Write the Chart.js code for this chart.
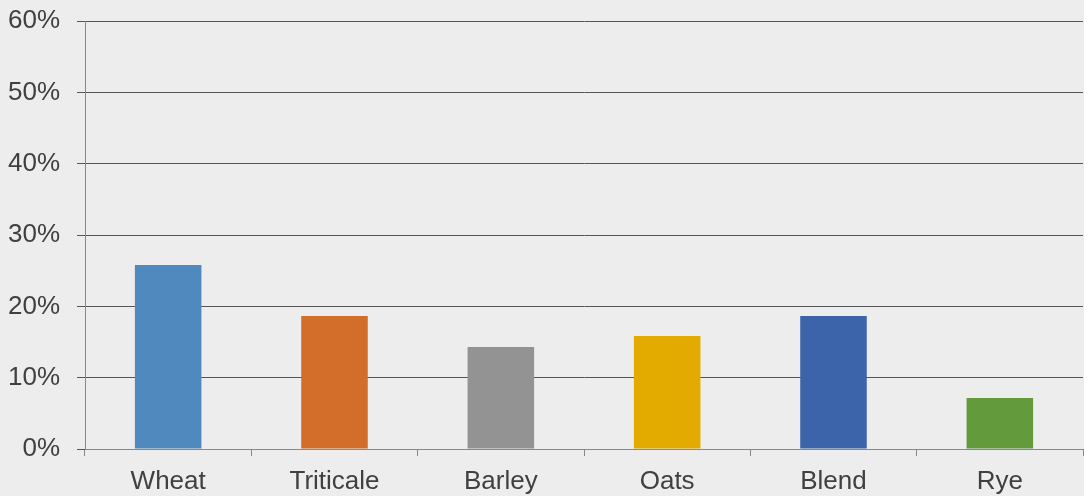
<!DOCTYPE html>
<html>
<head>
<meta charset="utf-8">
<script src="https://cdn.jsdelivr.net/npm/chart.js@4"></script>
<style>
  html, body { margin: 0; padding: 0; background: #ededed; }
  #wrap { width: 1084px; height: 496px; }
</style>
</head>
<body>
<div id="wrap"><canvas id="grainChart"></canvas></div>
<script>
const grains = ['Wheat', 'Triticale', 'Barley', 'Oats', 'Blend', 'Rye'];
const shares = [25.8, 18.65, 14.3, 15.85, 18.65, 7.15];
const barColors = ['#4f89bd', '#d36e2a', '#939393', '#e3ab00', '#3c64ab', '#629a3c'];
const yTicks = [0, 10, 20, 30, 40, 50, 60];

const textColor = '#404040';
const labelFont = { family: 'Liberation Sans', size: 26 };

const ctx = document.getElementById('grainChart').getContext('2d');
new Chart(ctx, {
  type: 'bar',
  data: {
    labels: grains,
    datasets: [{
      data: shares,
      backgroundColor: barColors,
      barPercentage: 0.4,
      categoryPercentage: 1
    }]
  },
  options: {
    responsive: true,
    maintainAspectRatio: false,
    animation: false,
    layout: { padding: { top: 21, right: 1, left: 0, bottom: 0 } },
    plugins: { legend: { display: false }, tooltip: { enabled: false } },
    scales: {
      x: {
        offset: true,
        grid: { display: true, drawOnChartArea: false, offset: true, tickLength: 7, color: '#888888' },
        border: { color: '#888888', width: 1 },
        ticks: { color: textColor, font: labelFont, padding: 10 },
        afterFit: scale => {
          scale.height = 47;
          scale.paddingLeft = 0;
          scale.paddingRight = 0;
        }
      },
      y: {
        min: 0,
        max: 60,
        afterBuildTicks: scale => { scale.ticks = yTicks.map(v => ({ value: v })); },
        grid: { color: '#555555', tickLength: 8, lineWidth: 1 },
        border: { color: '#888888', width: 1 },
        ticks: { color: textColor, font: labelFont, padding: 17, callback: v => v + '%' },
        afterFit: scale => {
          scale.width = 85;
          scale.paddingTop = 0;
          scale.paddingBottom = 0;
        }
      }
    }
  }
});
</script>
</body>
</html>
